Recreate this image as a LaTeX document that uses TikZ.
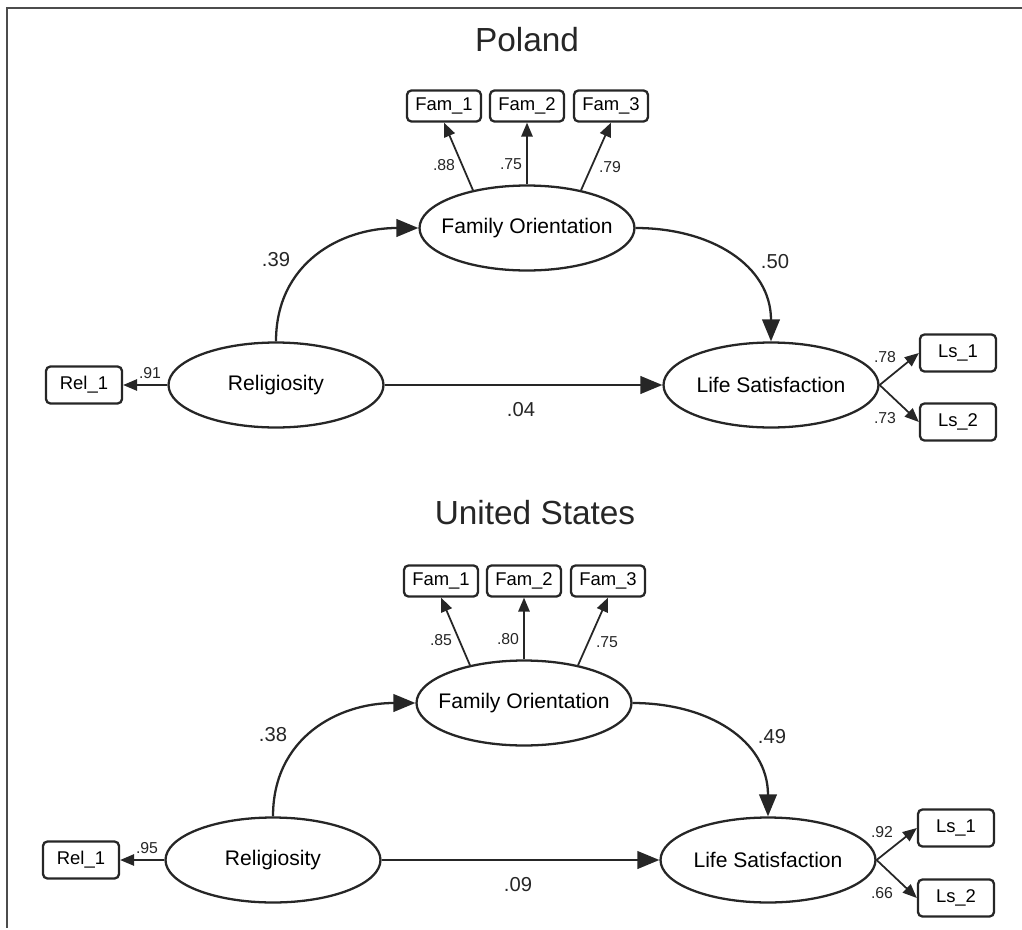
\documentclass[tikz,border=0pt]{standalone}
\usepackage{fontspec}
\setmainfont{Liberation Sans}
\usetikzlibrary{arrows.meta,shapes.geometric}

\tikzset{
	latent/.style={ellipse, draw=black!85, line width=1.3pt, minimum width=4.3cm, minimum height=1.7cm, inner xsep=-0.6cm, inner ysep=0pt, font=\fontsize{12}{14}\selectfont},
	indic/.style={rectangle, rounded corners=2.5pt, draw=black!85, line width=1.3pt, minimum width=1.52cm, minimum height=0.74cm, inner sep=0pt, font=\fontsize{10.5}{12}\selectfont},
	famind/.style={indic, minimum width=1.48cm, minimum height=0.62cm},
	regr/.style={draw=black!85, line width=1.3pt, -{Triangle[length=12.5pt,width=10pt]}},
	load/.style={draw=black!85, line width=1pt, -{Triangle[length=8pt,width=6.5pt]}},
	coef/.style={font=\fontsize{11.5}{13}\selectfont, text=black!85, inner sep=0pt},
	lcoef/.style={font=\fontsize{9}{10}\selectfont, text=black!85, inner sep=0pt},
	ttl/.style={font=\fontsize{19}{22}\selectfont, text=black!85, inner sep=0pt},
	frame/.style={draw=black!70, line width=1.1pt}
}

\begin{document}
\begin{tikzpicture}[x=0.02cm, y=-0.02cm]
		\useasboundingbox (0,0) rectangle (1022,930);
		\draw[frame] (1022,8) -- (7,8) -- (7,928);
		
		%%%%% POLAND %%%%%
		
		\node[ttl] (ttlP) at (527,40) {Poland};
		
		\node[famind] (famoneP) at (444,106) {Fam\_1};
		\node[famind] (famtwoP) at (527,106) {Fam\_2};
		\node[famind] (famthreeP) at (611,106) {Fam\_3};
		\node[latent] (famP) at (527,228) {Family Orientation};
		\node[latent] (relP) at (276,385) {Religiosity};
		\node[latent] (lsP) at (771,385) {Life Satisfaction};
		\node[indic] (reloneP) at (84,385) {Rel\_1};
		\node[indic] (lsoneP) at (958,353) {Ls\_1};
		\node[indic] (lstwoP) at (958,422) {Ls\_2};
		
		\draw[load] (famP.145) -- (famoneP.south);
		\draw[load] (famP.north) -- (famtwoP.south);
		\draw[load] (famP.35) -- (famthreeP.south);
		\draw[load] (relP.west) -- (reloneP.east);
		\draw[load] (lsP.east) -- (lsoneP.west);
		\draw[load] (lsP.east) -- (lstwoP.west);
		
		\draw[regr] (relP.north) to[out=90, in=180, looseness=1.1] (famP.west);
		\draw[regr] (famP.east) to[out=0, in=90, looseness=1.1] (lsP.north);
		\draw[regr] (relP.east) -- (lsP.west);
		
		\node[lcoef] (lfoneP) at (444,165) {.88};
		\node[lcoef] (lftwoP) at (511,164) {.75};
		\node[lcoef] (lfthreeP) at (610,167) {.79};
		\node[lcoef] (lroneP) at (150,373) {.91};
		\node[lcoef] (lloneP) at (885,357) {.78};
		\node[lcoef] (lltwoP) at (885,418) {.73};
		\node[coef] (brfP) at (276,260) {.39};
		\node[coef] (bflP) at (775,262) {.50};
		\node[coef] (brlP) at (521,410) {.04};
		
		%%%%% UNITED STATES %%%%%
		
		\begin{scope}[shift={(-3,475)}]
		\node[ttl] (ttlU) at (538,38) {United States};
		
		\node[famind] (famoneU) at (444,106) {Fam\_1};
		\node[famind] (famtwoU) at (527,106) {Fam\_2};
		\node[famind] (famthreeU) at (611,106) {Fam\_3};
		\node[latent] (famU) at (527,228) {Family Orientation};
		\node[latent] (relU) at (276,385) {Religiosity};
		\node[latent] (lsU) at (771,385) {Life Satisfaction};
		\node[indic] (reloneU) at (84,385) {Rel\_1};
		\node[indic] (lsoneU) at (959,353) {Ls\_1};
		\node[indic] (lstwoU) at (959,423) {Ls\_2};
		
		\draw[load] (famU.145) -- (famoneU.south);
		\draw[load] (famU.north) -- (famtwoU.south);
		\draw[load] (famU.35) -- (famthreeU.south);
		\draw[load] (relU.west) -- (reloneU.east);
		\draw[load] (lsU.east) -- (lsoneU.west);
		\draw[load] (lsU.east) -- (lstwoU.west);
		
		\draw[regr] (relU.north) to[out=90, in=180, looseness=1.1] (famU.west);
		\draw[regr] (famU.east) to[out=0, in=90, looseness=1.1] (lsU.north);
		\draw[regr] (relU.east) -- (lsU.west);
		
		\node[lcoef] (lfoneU) at (444,165) {.85};
		\node[lcoef] (lftwoU) at (511,164) {.80};
		\node[lcoef] (lfthreeU) at (610,167) {.75};
		\node[lcoef] (lroneU) at (150,373) {.95};
		\node[lcoef] (lloneU) at (885,357) {.92};
		\node[lcoef] (lltwoU) at (885,418) {.66};
		\node[coef] (brfU) at (276,260) {.38};
		\node[coef] (bflU) at (775,262) {.49};
		\node[coef] (brlU) at (521,410) {.09};
		\end{scope}
		
	\end{tikzpicture}
\end{document}
